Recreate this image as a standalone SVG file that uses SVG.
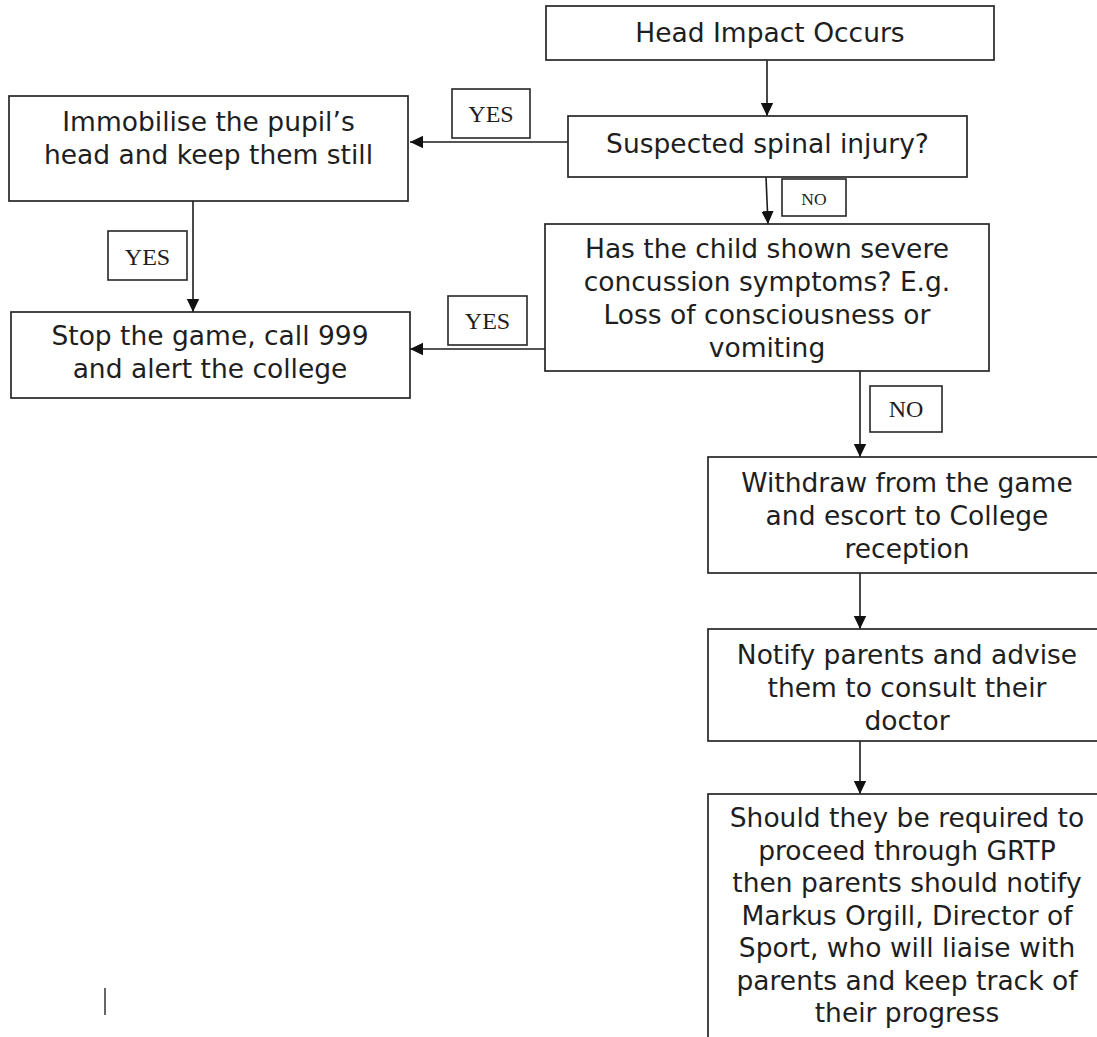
<svg xmlns="http://www.w3.org/2000/svg" width="1097" height="1037" viewBox="0 0 1097 1037">
<style>
.box{fill:#fff;stroke:#262626;stroke-width:1.7}
.lbl{fill:#fff;stroke:#262626;stroke-width:1.6}
.t{font-family:"DejaVu Sans",Verdana,sans-serif;font-size:26.5px;fill:#1e1e1e;text-anchor:middle}
.l{font-family:"Liberation Serif","Times New Roman",serif;font-size:24px;fill:#1e1e1e;text-anchor:middle}
.ls{font-size:17.5px}
.c{fill:none;stroke:#1c1c1c;stroke-width:1.6}
</style>
<defs>
<marker id="ah" markerUnits="userSpaceOnUse" markerWidth="14" markerHeight="14" refX="13" refY="7" orient="auto">
<path d="M0,0.8 L13,7 L0,13.2 z" fill="#111"/>
</marker>
</defs>
<rect width="1097" height="1037" fill="#fff"/>
<g id="connectors">
<path class="c" d="M767,60 V116" marker-end="url(#ah)"/>
<path class="c" d="M568,142 H410" marker-end="url(#ah)"/>
<path class="c" d="M766,177 L768,224" marker-end="url(#ah)"/>
<path class="c" d="M193,201 V312" marker-end="url(#ah)"/>
<path class="c" d="M545,349 H410" marker-end="url(#ah)"/>
<path class="c" d="M860,371 V457" marker-end="url(#ah)"/>
<path class="c" d="M860,573 V629" marker-end="url(#ah)"/>
<path class="c" d="M860,741 V794" marker-end="url(#ah)"/>
</g>
<g id="head-impact">
<rect class="box" x="546" y="6" width="448" height="54"/>
<text class="t" x="770" y="42">Head Impact Occurs</text>
</g>
<g id="spinal">
<rect class="box" x="568" y="116" width="399" height="61"/>
<text class="t" x="767.5" y="153">Suspected spinal injury?</text>
</g>
<g id="immobilise">
<rect class="box" x="9" y="96" width="399" height="105"/>
<text class="t" x="208.5" y="131">Immobilise the pupil’s</text>
<text class="t" x="208.5" y="164">head and keep them still</text>
</g>
<g id="stop">
<rect class="box" x="11" y="312" width="399" height="86"/>
<text class="t" x="210" y="345">Stop the game, call 999</text>
<text class="t" x="210" y="378">and alert the college</text>
</g>
<g id="severe">
<rect class="box" x="545" y="224" width="444" height="147"/>
<text class="t" x="767" y="258">Has the child shown severe</text>
<text class="t" x="767" y="291">concussion symptoms? E.g.</text>
<text class="t" x="767" y="324">Loss of consciousness or</text>
<text class="t" x="767" y="357">vomiting</text>
</g>
<g id="withdraw">
<rect class="box" x="708" y="457" width="398" height="116"/>
<text class="t" x="907" y="492">Withdraw from the game</text>
<text class="t" x="907" y="525">and escort to College</text>
<text class="t" x="907" y="558">reception</text>
</g>
<g id="notify">
<rect class="box" x="708" y="629" width="398" height="112"/>
<text class="t" x="907" y="664">Notify parents and advise</text>
<text class="t" x="907" y="697">them to consult their</text>
<text class="t" x="907" y="730">doctor</text>
</g>
<g id="grtp">
<rect class="box" x="708" y="794" width="398" height="260"/>
<text class="t" x="907" y="827">Should they be required to</text>
<text class="t" x="907" y="859.5">proceed through GRTP</text>
<text class="t" x="907" y="892">then parents should notify</text>
<text class="t" x="907" y="924.5">Markus Orgill, Director of</text>
<text class="t" x="907" y="957">Sport, who will liaise with</text>
<text class="t" x="907" y="989.5">parents and keep track of</text>
<text class="t" x="907" y="1022">their progress</text>
</g>
<g id="labels">
<rect class="lbl" x="452" y="89" width="78" height="49"/>
<text class="l" x="491" y="122">YES</text>
<rect class="lbl" x="108" y="231" width="79" height="49"/>
<text class="l" x="147.5" y="265">YES</text>
<rect class="lbl" x="448" y="296" width="79" height="49"/>
<text class="l" x="487.5" y="329">YES</text>
<rect class="lbl" x="782" y="179" width="64" height="37"/>
<text class="l ls" x="814" y="205">NO</text>
<rect class="lbl" x="870" y="386" width="72" height="46"/>
<text class="l" x="906" y="417">NO</text>
</g>
<line x1="105" y1="988" x2="105" y2="1015" stroke="#333" stroke-width="1.5"/>
</svg>
